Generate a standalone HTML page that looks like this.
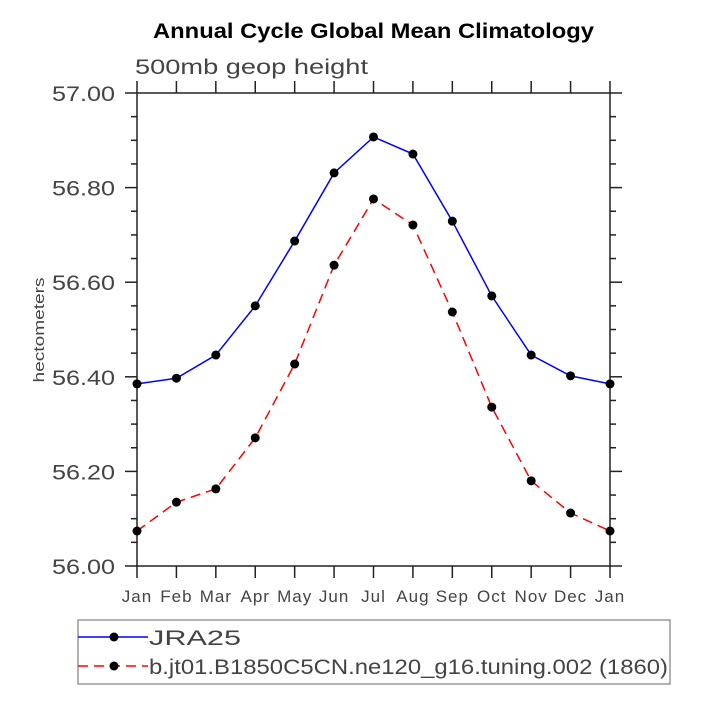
<!DOCTYPE html>
<html><head><meta charset="utf-8"><style>body{margin:0;background:#fff}svg{display:block}</style></head>
<body>
<svg id="chart" width="703" height="703" viewBox="0 0 703 703" xmlns="http://www.w3.org/2000/svg" font-family="Liberation Sans, sans-serif">
<text x="153" y="38" font-size="21" font-weight="bold" textLength="441" lengthAdjust="spacingAndGlyphs">Annual Cycle Global Mean Climatology</text>
<text x="135" y="74" font-size="21" fill="#444" textLength="233" lengthAdjust="spacingAndGlyphs">500mb geop height</text>
<text transform="translate(44,330) rotate(-90)" text-anchor="middle" font-size="15" fill="#444" textLength="105" lengthAdjust="spacingAndGlyphs">hectometers</text>
<g id="axes"></g>
<g id="series"></g>
<g>
<rect x="78" y="620" width="592" height="64" fill="none" stroke="#999" stroke-width="1.5"/>
<line x1="78" y1="637" x2="148" y2="637" stroke="#00f" stroke-width="1.5"/>
<circle cx="114" cy="637" r="4.5"/>
<text x="149" y="645" font-size="21" fill="#444" textLength="92" lengthAdjust="spacingAndGlyphs">JRA25</text>
<line x1="78" y1="666" x2="148" y2="666" stroke="#f00" stroke-width="1.5" stroke-dasharray="10,6"/>
<circle cx="114" cy="666" r="4.5"/>
<text x="149" y="674" font-size="21" fill="#444" textLength="519" lengthAdjust="spacingAndGlyphs">b.jt01.B1850C5CN.ne120_g16.tuning.002 (1860)</text>
</g>
</svg>
<script>
const months=["Jan","Feb","Mar","Apr","May","Jun","Jul","Aug","Sep","Oct","Nov","Dec","Jan"];
const jra25=[56.385,56.397,56.446,56.550,56.687,56.831,56.907,56.871,56.729,56.571,56.446,56.402,56.385];
const model=[56.074,56.135,56.163,56.271,56.427,56.636,56.776,56.721,56.537,56.336,56.180,56.112,56.074];
const yTicks=[56.00,56.20,56.40,56.60,56.80,57.00];
const NS="http://www.w3.org/2000/svg";
const X0=137,X1=610,Y0=566,Y1=93,YMIN=56,YMAX=57;
const xs=i=>X0+(X1-X0)*i/(months.length-1);
const ys=v=>Y0-(v-YMIN)/(YMAX-YMIN)*(Y0-Y1);
function mk(t,a,p){const e=document.createElementNS(NS,t);for(const k in a)e.setAttribute(k,a[k]);p.appendChild(e);return e;}
const ax=document.getElementById('axes');
const frame=mk('rect',{x:X0,y:Y1,width:X1-X0,height:Y0-Y1,fill:'none',stroke:'#222','stroke-width':1.5},ax);


months.forEach((m,i)=>{const x=xs(i);
mk('line',{x1:x,y1:Y0,x2:x,y2:Y0+12,stroke:'#222','stroke-width':1.5},ax);
mk('line',{x1:x,y1:Y1,x2:x,y2:Y1-12,stroke:'#222','stroke-width':1.5},ax);
const t=mk('text',{x:x,y:Y0+36,'text-anchor':'middle','font-size':17,fill:'#444','letter-spacing':1},ax);t.textContent=m;

});
for(let v=YMIN;v<=YMAX+1e-9;v+=0.05){const y=ys(v);const major=Math.abs(v*5-Math.round(v*5))<1e-6;const L=major?12:6;
mk('line',{x1:X0,y1:y,x2:X0-L,y2:y,stroke:'#222','stroke-width':1.5},ax);
mk('line',{x1:X1,y1:y,x2:X1+L,y2:y,stroke:'#222','stroke-width':1.5},ax);}
yTicks.forEach(v=>{const t=mk('text',{x:52,y:ys(v)+8,'font-size':21,fill:'#444',textLength:63,lengthAdjust:'spacingAndGlyphs'},ax);t.textContent=v.toFixed(2);

});
const sg=document.getElementById('series');
function series(vals,color,dash,name){
const g=mk('g',{},sg);


const pl=mk('polyline',{points:vals.map((v,i)=>xs(i)+','+ys(v)).join(' '),fill:'none',stroke:color,'stroke-width':1.5},g);
if(dash)pl.setAttribute('stroke-dasharray','10,6');
vals.forEach((v,i)=>{const c=mk('circle',{cx:xs(i),cy:ys(v),r:4.5,fill:'#000'},g);

});}
series(jra25,'#00f',false,'series-jra25');
series(model,'#f00',true,'series-model');
</script>
</body></html>
